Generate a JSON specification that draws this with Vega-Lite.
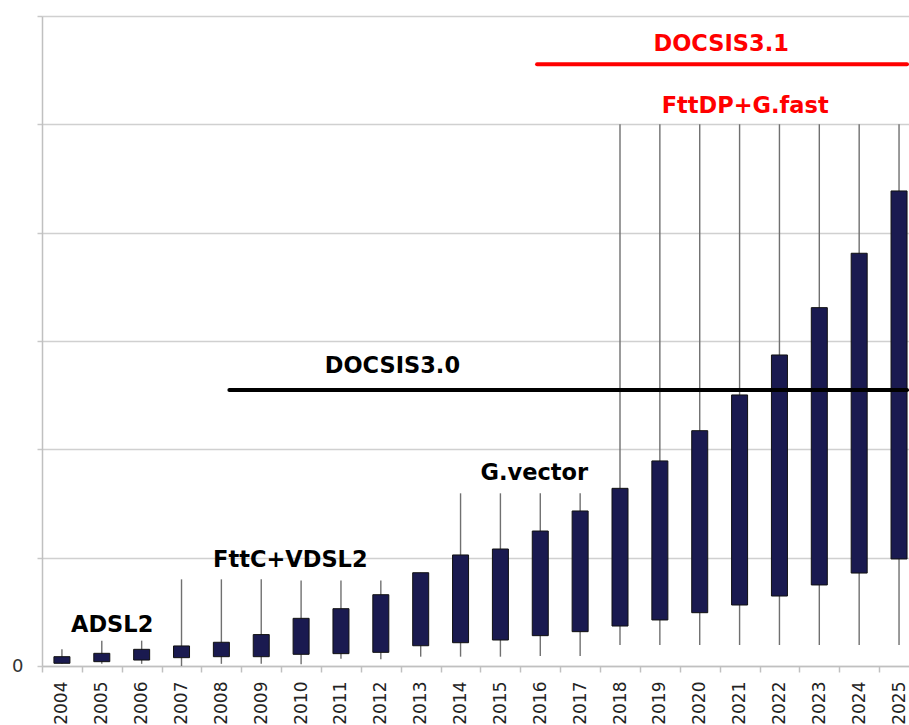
{
  "$schema": "https://vega.github.io/schema/vega-lite/v6.json",
  "width": 867,
  "height": 650,
  "autosize": {"type": "none"},
  "padding": {"left": 42, "top": 16, "right": 0, "bottom": 59},
  "background": "#ffffff",
  "config": {
    "view": {"stroke": null},
    "font": "DejaVu Sans"
  },
  "datasets": {
    "boxes": [
      {"year": 2004, "low": 0.02, "open": 0.025, "close": 0.086, "high": 0.154},
      {"year": 2005, "low": 0.02, "open": 0.04, "close": 0.117, "high": 0.234},
      {"year": 2006, "low": 0.02, "open": 0.055, "close": 0.154, "high": 0.234},
      {"year": 2007, "low": 0.0, "open": 0.077, "close": 0.185, "high": 0.8},
      {"year": 2008, "low": 0.02, "open": 0.086, "close": 0.219, "high": 0.8},
      {"year": 2009, "low": 0.02, "open": 0.086, "close": 0.29, "high": 0.8},
      {"year": 2010, "low": 0.016, "open": 0.108, "close": 0.44, "high": 0.79},
      {"year": 2011, "low": 0.067, "open": 0.114, "close": 0.529, "high": 0.79},
      {"year": 2012, "low": 0.062, "open": 0.126, "close": 0.658, "high": 0.79},
      {"year": 2013, "low": 0.086, "open": 0.187, "close": 0.861, "high": 0.861},
      {"year": 2014, "low": 0.086, "open": 0.215, "close": 1.025, "high": 1.594},
      {"year": 2015, "low": 0.086, "open": 0.24, "close": 1.08, "high": 1.594},
      {"year": 2016, "low": 0.092, "open": 0.28, "close": 1.246, "high": 1.594},
      {"year": 2017, "low": 0.092, "open": 0.317, "close": 1.431, "high": 1.594},
      {"year": 2018, "low": 0.194, "open": 0.369, "close": 1.64, "high": 5.0},
      {"year": 2019, "low": 0.194, "open": 0.425, "close": 1.893, "high": 5.0},
      {"year": 2020, "low": 0.194, "open": 0.492, "close": 2.172, "high": 5.0},
      {"year": 2021, "low": 0.194, "open": 0.563, "close": 2.502, "high": 5.0},
      {"year": 2022, "low": 0.194, "open": 0.646, "close": 2.871, "high": 5.0},
      {"year": 2023, "low": 0.194, "open": 0.748, "close": 3.308, "high": 5.0},
      {"year": 2024, "low": 0.194, "open": 0.858, "close": 3.81, "high": 5.0},
      {"year": 2025, "low": 0.194, "open": 0.988, "close": 4.385, "high": 5.0}
    ],
    "notes": [
      {"label": "ADSL2", "year": 2005.26, "value": 0.378, "era": "current"},
      {"label": "FttC+VDSL2", "year": 2009.73, "value": 0.978, "era": "current"},
      {"label": "G.vector", "year": 2015.85, "value": 1.78, "era": "current"},
      {"label": "DOCSIS3.0", "year": 2012.29, "value": 2.77, "era": "current"},
      {"label": "DOCSIS3.1", "year": 2020.54, "value": 5.74, "era": "future"},
      {"label": "FttDP+G.fast", "year": 2021.14, "value": 5.17, "era": "future"}
    ],
    "spans": [
      {"label": "DOCSIS3.0", "start": 2008.2, "end": 2025.2, "value": 2.548, "era": "current"},
      {"label": "DOCSIS3.1", "start": 2015.92, "end": 2025.2, "value": 5.555, "era": "future"}
    ]
  },
  "layer": [
    {
      "data": {"name": "boxes"},
      "mark": {"type": "rule", "color": "#707070", "strokeWidth": 1.4},
      "encoding": {
        "x": {
          "field": "year",
          "type": "quantitative",
          "scale": {"domain": [2003.5, 2025.25], "nice": false, "zero": false, "padding": 0},
          "axis": {
            "values": [2004, 2005, 2006, 2007, 2008, 2009, 2010, 2011, 2012, 2013, 2014, 2015, 2016, 2017, 2018, 2019, 2020, 2021, 2022, 2023, 2024, 2025],
            "format": "d",
            "labelAngle": -90,
            "labelAlign": "right",
            "labelBaseline": "middle",
            "labelFont": "DejaVu Sans",
            "labelFontSize": 17,
            "labelColor": "#222222",
            "labelPadding": 9,
            "labelOverlap": false,
            "labelFlush": false,
            "labelBound": false,
            "tickOffset": -19.93,
            "labelOffset": 19.93,
            "tickSize": 6,
            "tickColor": "#c0c0c0",
            "tickWidth": 1.5,
            "domainColor": "#c0c0c0",
            "domainWidth": 1.5,
            "grid": false,
            "title": null
          }
        },
        "y": {
          "field": "low",
          "type": "quantitative",
          "scale": {"domain": [0, 6], "nice": false},
          "axis": {
            "values": [0, 1, 2, 3, 4, 5, 6],
            "labelExpr": "datum.value == 0 ? '0' : ''",
            "labelFont": "DejaVu Sans",
            "labelFontSize": 18,
            "labelColor": "#333333",
            "labelPadding": 14,
            "tickSize": 5,
            "tickColor": "#c8c8c8",
            "tickWidth": 1.5,
            "domainColor": "#c0c0c0",
            "domainWidth": 1.5,
            "grid": true,
            "gridColor": "#d0d0d0",
            "gridWidth": 1.5,
            "title": null
          }
        },
        "y2": {"field": "high"}
      }
    },
    {
      "data": {"name": "boxes"},
      "mark": {"type": "bar", "orient": "vertical", "size": 16, "color": "#1a1a50", "stroke": "#111111", "strokeWidth": 1},
      "encoding": {
        "x": {"field": "year", "type": "quantitative"},
        "y": {"field": "open", "type": "quantitative"},
        "y2": {"field": "close"}
      }
    },
    {
      "data": {"name": "spans"},
      "mark": {"type": "rule", "strokeWidth": 4, "strokeCap": "round"},
      "encoding": {
        "x": {"field": "start", "type": "quantitative"},
        "x2": {"field": "end"},
        "y": {"field": "value", "type": "quantitative"},
        "color": {"field": "era", "type": "nominal", "scale": {"domain": ["current", "future"], "range": ["#000000", "#ff0000"]}, "legend": null}
      }
    },
    {
      "data": {"name": "notes"},
      "mark": {"type": "text", "font": "DejaVu Sans", "fontWeight": "bold", "fontSize": 22.5, "align": "center", "baseline": "middle"},
      "encoding": {
        "x": {"field": "year", "type": "quantitative"},
        "y": {"field": "value", "type": "quantitative"},
        "text": {"field": "label"},
        "color": {"field": "era", "type": "nominal", "scale": {"domain": ["current", "future"], "range": ["#000000", "#ff0000"]}, "legend": null}
      }
    }
  ]
}
